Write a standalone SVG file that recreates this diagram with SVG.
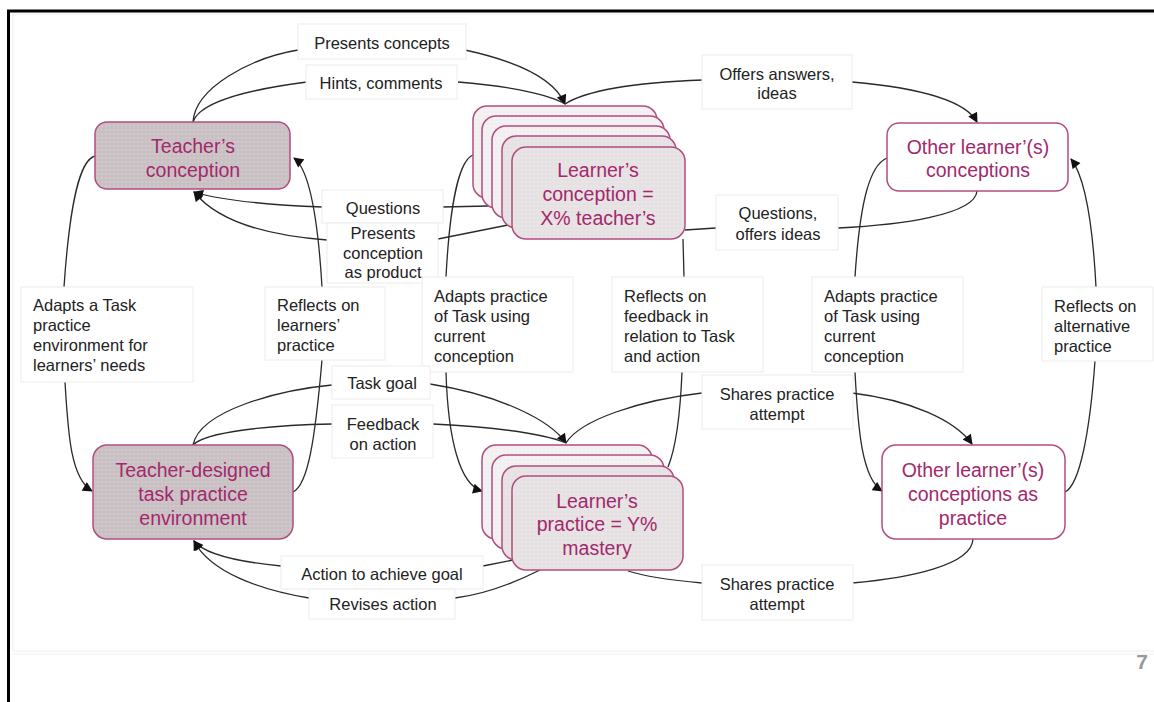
<svg xmlns="http://www.w3.org/2000/svg" width="1154" height="702" viewBox="0 0 1154 702">
<style>
.lbl{fill:#fff;stroke:#ececec;stroke-width:1}
.t{font-family:"Liberation Sans",Arial,sans-serif;font-size:16.5px;fill:#222}
.tc{text-anchor:middle}
.nt{font-family:"Liberation Sans",Arial,sans-serif;font-size:19.5px;fill:#a3286c;text-anchor:middle}
.node{stroke:#b24d80;stroke-width:1.5}
.c{fill:none;stroke:#2a2a2a;stroke-width:1.3}
.a{marker-end:url(#arr)}
</style>
<defs>
<pattern id="dk" width="4" height="4" patternUnits="userSpaceOnUse"><rect width="4" height="4" fill="#c9c0c3"/><circle cx="2" cy="2" r="0.7" fill="#ddd6d8"/></pattern>
<pattern id="lt" width="4" height="4" patternUnits="userSpaceOnUse"><rect width="4" height="4" fill="#e6e1e2"/><circle cx="2" cy="2" r="0.7" fill="#f1eeef"/></pattern>
<pattern id="bk" width="4" height="4" patternUnits="userSpaceOnUse"><rect width="4" height="4" fill="#f2eff0"/><circle cx="2" cy="2" r="0.7" fill="#fbfafa"/></pattern>
<marker id="arr" viewBox="0 0 10 10" refX="9" refY="5" markerWidth="11" markerHeight="10" markerUnits="userSpaceOnUse" orient="auto"><path d="M0,0 L10,5 L0,10 z" fill="#111"/></marker>
</defs>
<rect width="1154" height="702" fill="#fff"/>
<g id="frame">
<rect x="13" y="14" width="1150" height="637" fill="none" stroke="#efefef" stroke-width="1"/>
<line x1="13" y1="654" x2="1154" y2="654" stroke="#f2f2f2" stroke-width="1"/>
<line x1="7" y1="11" x2="1154" y2="11" stroke="#000" stroke-width="3"/>
<line x1="8.5" y1="10" x2="8.5" y2="702" stroke="#000" stroke-width="3"/>
<text x="1142" y="669" font-family="Liberation Sans,Arial,sans-serif" font-size="21" font-weight="bold" fill="#999" text-anchor="middle">7</text>
</g>
<g id="connectors">
<path class="c" d="M193,122 C195,88 250,58 298,50"/>
<path class="c a" d="M465,50 C520,62 555,80 565,104"/>
<path class="c" d="M193,122 C200,100 260,88 307,82"/>
<path class="c" d="M458,82 C510,86 550,95 565,104"/>
<path class="c" d="M565,104 C590,88 650,82 703,80"/>
<path class="c a" d="M852,82 C920,88 965,100 977,122"/>
<path class="c" d="M488,206 L442,207"/>
<path class="c a" d="M323,207 C270,205 220,200 194,192"/>
<path class="c" d="M508,225 L438,239"/>
<path class="c a" d="M327,240 C260,235 215,218 194,192"/>
<path class="c" d="M977,191 C975,215 900,225 838,228"/>
<path class="c" d="M716,228 L685,230"/>
<path class="c" d="M95,156 C80,160 70,200 64,287"/>
<path class="c a" d="M65,382 C68,430 70,478 92,491"/>
<path class="c" d="M293,492 C308,485 315,440 322,360"/>
<path class="c a" d="M322,287 C318,220 310,170 294,158"/>
<path class="c" d="M473,155 C460,160 450,200 446,277"/>
<path class="c a" d="M446,372 C448,440 460,485 482,491"/>
<path class="c" d="M683,239 L684,277"/>
<path class="c" d="M682,372 C680,420 675,450 668,467"/>
<path class="c" d="M887,158 C870,165 860,200 855,277"/>
<path class="c a" d="M855,372 C858,430 862,478 882,491"/>
<path class="c" d="M1065,492 C1080,485 1090,430 1095,361"/>
<path class="c a" d="M1096,287 C1093,230 1086,178 1071,159"/>
<path class="c" d="M193,445 C200,410 280,390 332,385"/>
<path class="c a" d="M430,384 C500,395 550,420 566,443"/>
<path class="c" d="M193,445 C205,432 270,425 332,424"/>
<path class="c" d="M433,424 C490,427 540,432 566,443"/>
<path class="c" d="M566,443 C580,420 640,400 702,393"/>
<path class="c a" d="M852,393 C910,400 955,420 972,444"/>
<path class="c" d="M513,560 L483,566"/>
<path class="c a" d="M281,566 C240,562 205,555 194,541"/>
<path class="c" d="M540,570 C510,585 480,595 455,598"/>
<path class="c a" d="M309,598 C260,590 210,572 194,541"/>
<path class="c" d="M973,539 C972,565 910,578 852,583"/>
<path class="c" d="M628,571 C650,578 680,581 702,583"/>
</g>
<g id="labels">
<g id="l-presents-concepts"><rect class="lbl" x="298" y="24" width="168" height="35"/><text class="t tc" x="382" y="49">Presents concepts</text></g>
<g id="l-hints"><rect class="lbl" x="306" y="65" width="151" height="34"/><text class="t tc" x="381" y="89">Hints, comments</text></g>
<g id="l-offers"><rect class="lbl" x="702" y="55" width="150" height="54"/><text class="t tc" x="777" y="80">Offers answers,</text><text class="t tc" x="777" y="99">ideas</text></g>
<g id="l-questions"><rect class="lbl" x="322" y="190" width="121" height="33"/><text class="t tc" x="383" y="214">Questions</text></g>
<g id="l-presents-product"><rect class="lbl" x="327" y="223" width="111" height="60"/><text class="t tc" x="383" y="239">Presents</text><text class="t tc" x="383" y="259">conception</text><text class="t tc" x="383" y="278">as product</text></g>
<g id="l-questions-offers"><rect class="lbl" x="716" y="195" width="122" height="55"/><text class="t tc" x="778" y="219">Questions,</text><text class="t tc" x="778" y="240">offers ideas</text></g>
<g id="l-adapts-env"><rect class="lbl" x="21" y="287" width="172" height="95"/><text class="t" x="33" y="311">Adapts a Task</text><text class="t" x="33" y="331">practice</text><text class="t" x="33" y="351">environment for</text><text class="t" x="33" y="371">learners’ needs</text></g>
<g id="l-reflects-learners"><rect class="lbl" x="265" y="287" width="120" height="73"/><text class="t" x="277" y="311">Reflects on</text><text class="t" x="277" y="331">learners’</text><text class="t" x="277" y="351">practice</text></g>
<g id="l-adapts-c"><rect class="lbl" x="422" y="277" width="151" height="95"/><text class="t" x="434" y="302">Adapts practice</text><text class="t" x="434" y="322">of Task using</text><text class="t" x="434" y="342">current</text><text class="t" x="434" y="362">conception</text></g>
<g id="l-reflects-feedback"><rect class="lbl" x="612" y="277" width="151" height="95"/><text class="t" x="624" y="302">Reflects on</text><text class="t" x="624" y="322">feedback in</text><text class="t" x="624" y="342">relation to Task</text><text class="t" x="624" y="362">and action</text></g>
<g id="l-adapts-r"><rect class="lbl" x="812" y="277" width="151" height="95"/><text class="t" x="824" y="302">Adapts practice</text><text class="t" x="824" y="322">of Task using</text><text class="t" x="824" y="342">current</text><text class="t" x="824" y="362">conception</text></g>
<g id="l-reflects-alt"><rect class="lbl" x="1042" y="287" width="111" height="74"/><text class="t" x="1054" y="312">Reflects on</text><text class="t" x="1054" y="332">alternative</text><text class="t" x="1054" y="352">practice</text></g>
<g id="l-task-goal"><rect class="lbl" x="332" y="366" width="98" height="33"/><text class="t tc" x="382" y="389">Task goal</text></g>
<g id="l-feedback"><rect class="lbl" x="332" y="405" width="101" height="53"/><text class="t tc" x="383" y="430">Feedback</text><text class="t tc" x="383" y="450">on action</text></g>
<g id="l-shares-up"><rect class="lbl" x="702" y="375" width="151" height="54"/><text class="t tc" x="777" y="400">Shares practice</text><text class="t tc" x="777" y="420">attempt</text></g>
<g id="l-action"><rect class="lbl" x="281" y="556" width="202" height="33"/><text class="t tc" x="382" y="580">Action to achieve goal</text></g>
<g id="l-revises"><rect class="lbl" x="309" y="589" width="146" height="30"/><text class="t tc" x="383" y="610">Revises action</text></g>
<g id="l-shares-low"><rect class="lbl" x="702" y="565" width="151" height="55"/><text class="t tc" x="777" y="590">Shares practice</text><text class="t tc" x="777" y="610">attempt</text></g>
</g>
<g id="n-teacher-conception"><rect class="node" x="95" y="122" width="195" height="67" rx="12" fill="url(#dk)"/><text class="nt" x="193" y="153">Teacher’s</text><text class="nt" x="193" y="177">conception</text></g>
<g id="n-learner-conception">
<rect class="node" x="473" y="106" width="184" height="92" rx="14" fill="url(#bk)"/>
<rect class="node" x="482" y="116" width="182" height="92" rx="14" fill="url(#bk)"/>
<rect class="node" x="492" y="126" width="178" height="92" rx="14" fill="url(#bk)"/>
<rect class="node" x="502" y="136" width="174" height="92" rx="14" fill="url(#lt)"/>
<rect class="node" x="512" y="147" width="173" height="92" rx="14" fill="url(#lt)"/>
<text class="nt" x="598" y="177">Learner’s</text><text class="nt" x="598" y="201">conception =</text><text class="nt" x="598" y="225">X% teacher’s</text>
</g>
<g id="n-other-conceptions"><rect class="node" x="887" y="123" width="181" height="68" rx="12" fill="#fff"/><text class="nt" x="978" y="154">Other learner’(s)</text><text class="nt" x="978" y="177">conceptions</text></g>
<g id="n-teacher-env"><rect class="node" x="93" y="445" width="200" height="94" rx="14" fill="url(#dk)"/><text class="nt" x="193" y="477">Teacher-designed</text><text class="nt" x="193" y="501">task practice</text><text class="nt" x="193" y="525">environment</text></g>
<g id="n-learner-practice">
<rect class="node" x="482" y="445" width="170" height="94" rx="14" fill="url(#bk)"/>
<rect class="node" x="492" y="455" width="172" height="94" rx="14" fill="url(#bk)"/>
<rect class="node" x="502" y="466" width="172" height="94" rx="14" fill="url(#lt)"/>
<rect class="node" x="512" y="476" width="171" height="94" rx="14" fill="url(#lt)"/>
<text class="nt" x="597" y="508">Learner’s</text><text class="nt" x="597" y="531">practice = Y%</text><text class="nt" x="597" y="555">mastery</text>
</g>
<g id="n-other-practice"><rect class="node" x="882" y="445" width="183" height="94" rx="14" fill="#fff"/><text class="nt" x="973" y="477">Other learner’(s)</text><text class="nt" x="973" y="501">conceptions as</text><text class="nt" x="973" y="525">practice</text></g>
</svg>
